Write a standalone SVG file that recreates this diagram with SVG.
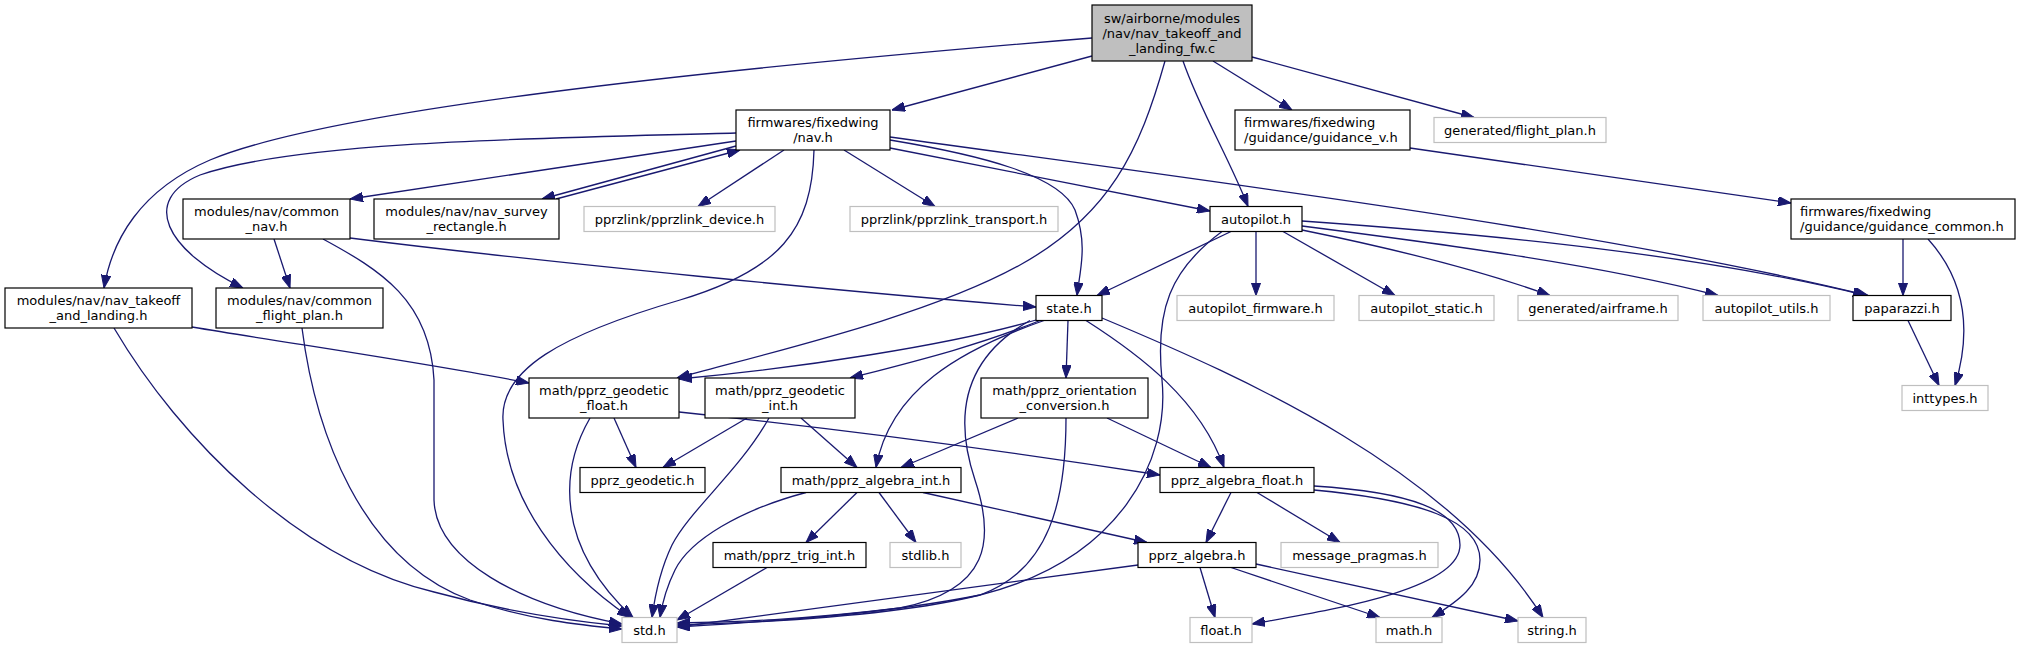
<svg xmlns="http://www.w3.org/2000/svg" width="2020" height="648" viewBox="0 0 2020 648">
<defs>
<marker id="ah" viewBox="0 0 13 9.5" markerWidth="13" markerHeight="9.5" refX="13" refY="4.75" orient="auto" markerUnits="userSpaceOnUse">
<path d="M0,0 L13,4.75 L0,9.5 z" fill="#191970" stroke="#191970" stroke-width="1"/>
</marker>
<style>
.n rect{fill:#ffffff;stroke:#000000;stroke-width:1.2}
.g rect{fill:#ffffff;stroke:#bfbfbf;stroke-width:1.2}
.root rect{fill:#bfbfbf;stroke:#000000;stroke-width:1.2}
text{font-family:"DejaVu Sans","Liberation Sans",sans-serif;font-size:13px;fill:#000000;text-anchor:middle}
.l text{text-anchor:start}
#edges path{fill:none;stroke:#191970;stroke-width:1.3;marker-end:url(#ah)}
</style>
</defs>
<rect width="2020" height="648" fill="#ffffff"/>
<g id="edges">
<path d="M1092,38 C700,70 330,110 210,160 C140,190 112,240 104,288"/>
<path d="M1092,56 L892,110"/>
<path d="M1165,61 C1140,150 1110,215 1020,265 C930,315 780,350 677,378"/>
<path d="M1183,61 C1200,110 1230,160 1248,206.5"/>
<path d="M1213,61 L1292,110"/>
<path d="M1252,57 L1474,117.5"/>
<path d="M736,141 L350,199"/>
<path d="M736,133 C560,138 300,140 200,175 C140,200 165,250 243,288"/>
<path d="M736,146 L542,199"/>
<path d="M556,199 L740,150"/>
<path d="M784,150 L698,206.5"/>
<path d="M844,150 L935,206.5"/>
<path d="M814,150 C812,230 780,270 680,300 C560,335 500,370 503,420 C506,500 560,570 630,617.5"/>
<path d="M890,140 C980,155 1060,175 1075,210 C1088,245 1080,270 1077,295.5"/>
<path d="M890,148 L1210,211"/>
<path d="M890,137 C1200,180 1600,230 1868,295.5"/>
<path d="M274,239 L290,288"/>
<path d="M323,239 C380,270 430,300 434,380 L434,500 C436,560 520,605 622,624"/>
<path d="M350,238 C550,263 850,292 1036,307"/>
<path d="M192,327 C300,345 420,362 529,383"/>
<path d="M114,328 C180,440 300,560 434,592 C500,610 560,620 622,626"/>
<path d="M302,328 C315,430 360,560 470,600 C530,620 580,625 622,629"/>
<path d="M1410,148 L1791,203"/>
<path d="M1903,239 L1903,295.5"/>
<path d="M1928,239 C1965,280 1972,330 1955,385.5"/>
<path d="M1908,320.5 L1939,385.5"/>
<path d="M1231,231.5 L1097,295.5"/>
<path d="M1222,231.5 C1170,270 1155,310 1162,380 C1170,460 1120,560 980,595 C880,615 760,622 677,627"/>
<path d="M1256,231.5 L1256,295.5"/>
<path d="M1283,231.5 L1395,295.5"/>
<path d="M1302,230 C1400,250 1480,270 1550,295.5"/>
<path d="M1302,226 C1450,245 1600,265 1718,295.5"/>
<path d="M1302,221 C1500,235 1700,255 1866,295.5"/>
<path d="M1036,320 C950,345 800,368 679,379"/>
<path d="M1040,320.5 C980,345 920,360 850,378"/>
<path d="M1044,320.5 C960,350 890,390 876,467.5"/>
<path d="M1030,320.5 C960,360 955,420 975,480 C995,540 990,590 900,608 C800,620 740,622 677,623"/>
<path d="M1068,320.5 L1066,378"/>
<path d="M1086,320.5 C1140,355 1200,400 1224,467.5"/>
<path d="M1102,318 C1250,380 1450,470 1543,617.5"/>
<path d="M614,418 L636,467.5"/>
<path d="M590,418 C560,470 555,545 633,617.5"/>
<path d="M679,412 C850,430 1000,450 1160,475"/>
<path d="M747,418 L663,467.5"/>
<path d="M769,418 C740,470 690,510 672,545 C660,570 655,595 652,617.5"/>
<path d="M801,418 L857,467.5"/>
<path d="M1018,418 L901,467.5"/>
<path d="M1107,418 L1211,467.5"/>
<path d="M1066,418 C1066,500 1050,570 980,595 C900,615 780,622 677,625"/>
<path d="M857,492.5 L806,542.5"/>
<path d="M879,492.5 L916,542.5"/>
<path d="M923,492.5 L1147,542.5"/>
<path d="M806,492.5 C740,510 690,540 675,570 C665,590 662,605 660,617.5"/>
<path d="M1231,492.5 L1206,542.5"/>
<path d="M1257,492.5 L1340,542.5"/>
<path d="M1314,490 C1420,500 1480,520 1480,560 C1480,585 1460,600 1432,617.5"/>
<path d="M1314,486 C1410,492 1460,510 1460,545 C1460,590 1330,610 1252,624"/>
<path d="M1200,567.5 L1215,617.5"/>
<path d="M1231,567.5 L1380,617.5"/>
<path d="M1256,564 L1518,621"/>
<path d="M1138,565 C950,590 800,610 677,627"/>
<path d="M767,567.5 L677,620"/>
</g>
<g id="node-root" class="root"><rect x="1092" y="5" width="160" height="56"/><text x="1172" y="23">sw/airborne/modules</text><text x="1172" y="38">/nav/nav_takeoff_and</text><text x="1172" y="53">_landing_fw.c</text></g>
<g id="node-nav" class="n"><rect x="736" y="110" width="154" height="40"/><text x="813" y="127">firmwares/fixedwing</text><text x="813" y="142">/nav.h</text></g>
<g id="node-guidance-v" class="n l"><rect x="1235" y="110" width="175" height="40"/><text x="1244" y="127">firmwares/fixedwing</text><text x="1244" y="142">/guidance/guidance_v.h</text></g>
<g id="node-flight-plan" class="g"><rect x="1434" y="117.5" width="172" height="25"/><text x="1520" y="134.5">generated/flight_plan.h</text></g>
<g id="node-common-nav" class="n"><rect x="183" y="199" width="167" height="40"/><text x="266.5" y="216">modules/nav/common</text><text x="266.5" y="231">_nav.h</text></g>
<g id="node-survey" class="n"><rect x="374" y="199" width="185" height="40"/><text x="466.5" y="216">modules/nav/nav_survey</text><text x="466.5" y="231">_rectangle.h</text></g>
<g id="node-pprzlink-device" class="g"><rect x="584" y="206.5" width="191" height="25"/><text x="679.5" y="223.5">pprzlink/pprzlink_device.h</text></g>
<g id="node-pprzlink-transport" class="g"><rect x="850" y="206.5" width="208" height="25"/><text x="954" y="223.5">pprzlink/pprzlink_transport.h</text></g>
<g id="node-autopilot" class="n"><rect x="1210" y="206.5" width="92" height="25"/><text x="1256" y="223.5">autopilot.h</text></g>
<g id="node-guidance-common" class="n l"><rect x="1791" y="199" width="224" height="40"/><text x="1800" y="216">firmwares/fixedwing</text><text x="1800" y="231">/guidance/guidance_common.h</text></g>
<g id="node-takeoff" class="n"><rect x="5" y="288" width="187" height="40"/><text x="98.5" y="305">modules/nav/nav_takeoff</text><text x="98.5" y="320">_and_landing.h</text></g>
<g id="node-common-fp" class="n"><rect x="216" y="288" width="167" height="40"/><text x="299.5" y="305">modules/nav/common</text><text x="299.5" y="320">_flight_plan.h</text></g>
<g id="node-state" class="n"><rect x="1036" y="295.5" width="66" height="25"/><text x="1069" y="312.5">state.h</text></g>
<g id="node-ap-firmware" class="g"><rect x="1177" y="295.5" width="157" height="25"/><text x="1255.5" y="312.5">autopilot_firmware.h</text></g>
<g id="node-ap-static" class="g"><rect x="1359" y="295.5" width="135" height="25"/><text x="1426.5" y="312.5">autopilot_static.h</text></g>
<g id="node-airframe" class="g"><rect x="1518" y="295.5" width="160" height="25"/><text x="1598" y="312.5">generated/airframe.h</text></g>
<g id="node-ap-utils" class="g"><rect x="1703" y="295.5" width="127" height="25"/><text x="1766.5" y="312.5">autopilot_utils.h</text></g>
<g id="node-paparazzi" class="n"><rect x="1853" y="295.5" width="98" height="25"/><text x="1902" y="312.5">paparazzi.h</text></g>
<g id="node-geodetic-float" class="n"><rect x="529" y="378" width="150" height="40"/><text x="604" y="395">math/pprz_geodetic</text><text x="604" y="410">_float.h</text></g>
<g id="node-geodetic-int" class="n"><rect x="705" y="378" width="150" height="40"/><text x="780" y="395">math/pprz_geodetic</text><text x="780" y="410">_int.h</text></g>
<g id="node-orientation" class="n"><rect x="981" y="378" width="167" height="40"/><text x="1064.5" y="395">math/pprz_orientation</text><text x="1064.5" y="410">_conversion.h</text></g>
<g id="node-inttypes" class="g"><rect x="1902" y="385.5" width="86" height="25"/><text x="1945" y="402.5">inttypes.h</text></g>
<g id="node-geodetic" class="n"><rect x="580" y="467.5" width="125" height="25"/><text x="642.5" y="484.5">pprz_geodetic.h</text></g>
<g id="node-algebra-int" class="n"><rect x="781" y="467.5" width="180" height="25"/><text x="871" y="484.5">math/pprz_algebra_int.h</text></g>
<g id="node-algebra-float" class="n"><rect x="1160" y="467.5" width="154" height="25"/><text x="1237" y="484.5">pprz_algebra_float.h</text></g>
<g id="node-trig-int" class="n"><rect x="713" y="542.5" width="153" height="25"/><text x="789.5" y="559.5">math/pprz_trig_int.h</text></g>
<g id="node-stdlib" class="g"><rect x="890" y="542.5" width="71" height="25"/><text x="925.5" y="559.5">stdlib.h</text></g>
<g id="node-algebra" class="n"><rect x="1138" y="542.5" width="118" height="25"/><text x="1197" y="559.5">pprz_algebra.h</text></g>
<g id="node-pragmas" class="g"><rect x="1281" y="542.5" width="157" height="25"/><text x="1359.5" y="559.5">message_pragmas.h</text></g>
<g id="node-std" class="g"><rect x="622" y="617.5" width="55" height="25"/><text x="649.5" y="634.5">std.h</text></g>
<g id="node-float" class="g"><rect x="1190" y="617.5" width="62" height="25"/><text x="1221" y="634.5">float.h</text></g>
<g id="node-math" class="g"><rect x="1376" y="617.5" width="66" height="25"/><text x="1409" y="634.5">math.h</text></g>
<g id="node-string" class="g"><rect x="1518" y="617.5" width="68" height="25"/><text x="1552" y="634.5">string.h</text></g>
</svg>
